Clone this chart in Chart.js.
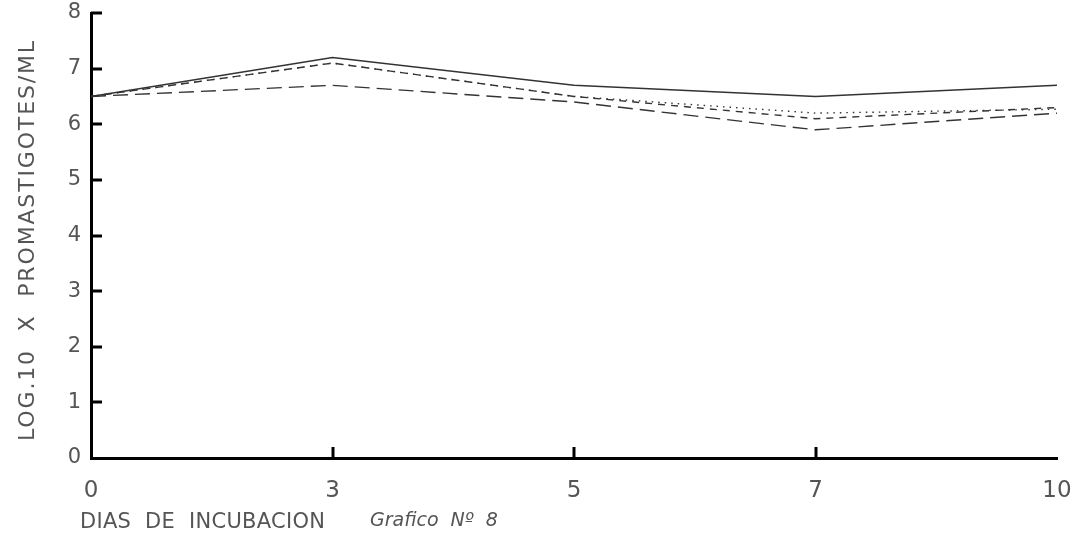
<!DOCTYPE html>
<html>
<head>
<meta charset="utf-8">
<script src="https://cdn.jsdelivr.net/npm/chart.js@4/dist/chart.umd.min.js"></script>
<style>
  html, body { margin: 0; padding: 0; background: #fff; }
  #wrap { width: 1081px; height: 541px; position: relative; }
</style>
</head>
<body>
<div id="wrap"><canvas id="grafico"></canvas></div>
<script>
// Días de incubación (eje X)
const dias = ['0', '3', '5', '7', '10'];
// Log10 del número de promastigotes/ml para cada cultivo
const continua = [6.5, 7.2, 6.7, 6.5, 6.7];
const guiones = [6.5, 7.1, 6.5, 6.1, 6.3];
const puntos = [6.5, 7.1, 6.5, 6.2, 6.27];
const trazos = [6.5, 6.7, 6.4, 5.9, 6.2];
// Marcas del eje Y
const marcasY = [0, 1, 2, 3, 4, 5, 6, 7, 8];

const fuente = "'DejaVu Sans', 'Open Sans', sans-serif";
const gris = '#555';

// Escribe un texto estirado hasta ocupar el ancho indicado
function textoAncho(ctx, texto, x, y, ancho) {
  ctx.letterSpacing = '0px';
  const base = ctx.measureText(texto).width;
  const extra = Math.max(0, (ancho - base) / (texto.length - 1));
  ctx.letterSpacing = extra.toFixed(2) + 'px';
  ctx.fillText(texto, x, y);
  ctx.letterSpacing = '0px';
}

// Marcas cortas hacia el interior de los ejes y rótulos inferiores
const marcasInteriores = {
  id: 'marcasInteriores',
  afterDraw(chart) {
    const { ctx, scales } = chart;
    const x = scales.x, y = scales.y;
    ctx.save();
    ctx.strokeStyle = '#000';
    ctx.lineWidth = 3;
    marcasY.forEach(v => {
      if (v === 0) return;
      const py = Math.round(y.getPixelForValue(v));
      ctx.beginPath();
      ctx.moveTo(x.left, py);
      ctx.lineTo(x.left + 11, py);
      ctx.stroke();
    });
    dias.forEach((d, i) => {
      if (i === 0 || i === dias.length - 1) return;
      const px = Math.round(x.getPixelForValue(i));
      ctx.beginPath();
      ctx.moveTo(px, y.bottom);
      ctx.lineTo(px, y.bottom - 11);
      ctx.stroke();
    });

    // Título del eje Y
    ctx.fillStyle = gris;
    ctx.font = `22px ${fuente}`;
    ctx.textAlign = 'left';
    ctx.textBaseline = 'middle';
    ctx.save();
    ctx.translate(28, 441);
    ctx.rotate(-Math.PI / 2);
    textoAncho(ctx, 'LOG.10  X  PROMASTIGOTES/ML', 0, 0, 400);
    ctx.restore();

    // Título del eje X y número del gráfico
    ctx.font = `21px ${fuente}`;
    textoAncho(ctx, 'DIAS  DE  INCUBACION', x.left - 11, 523, 245);
    ctx.font = `italic 19px ${fuente}`;
    textoAncho(ctx, 'Grafico  Nº  8', 370, 521, 125);
    ctx.restore();
  }
};

const linea = (datos, patron) => ({
  data: datos,
  borderColor: '#333',
  borderWidth: 1.4,
  borderDash: patron,
  pointRadius: 0,
  tension: 0,
  fill: false
});

new Chart(document.getElementById('grafico'), {
  type: 'line',
  data: {
    labels: dias,
    datasets: [
      linea(continua, []),
      linea(guiones, [7, 6]),
      linea(puntos, [1.5, 5]),
      linea(trazos, [15, 7])
    ]
  },
  options: {
    responsive: true,
    maintainAspectRatio: false,
    animation: false,
    layout: { padding: { left: 0, top: 13, right: 24, bottom: 0 } },
    plugins: { legend: { display: false }, tooltip: { enabled: false } },
    scales: {
      x: {
        type: 'category',
        offset: false,
        grid: { display: false, drawTicks: false },
        border: { display: true, color: '#000', width: 3 },
        ticks: {
          color: gris,
          font: { family: fuente, size: 23 },
          padding: 19,
          maxRotation: 0,
          autoSkip: false
        },
        afterFit(scale) {
          scale.height = 83;
          scale.paddingLeft = 0;
          scale.paddingRight = 0;
        }
      },
      y: {
        min: 0,
        max: 8,
        grid: { display: false, drawTicks: false },
        border: { display: true, color: '#000', width: 3 },
        afterBuildTicks(scale) { scale.ticks = marcasY.map(v => ({ value: v })); },
        ticks: {
          color: gris,
          font: { family: fuente, size: 21 },
          padding: 10
        },
        afterFit(scale) {
          scale.width = 91;
          scale.paddingTop = 0;
          scale.paddingBottom = 0;
        }
      }
    }
  },
  plugins: [marcasInteriores]
});
</script>
</body>
</html>
